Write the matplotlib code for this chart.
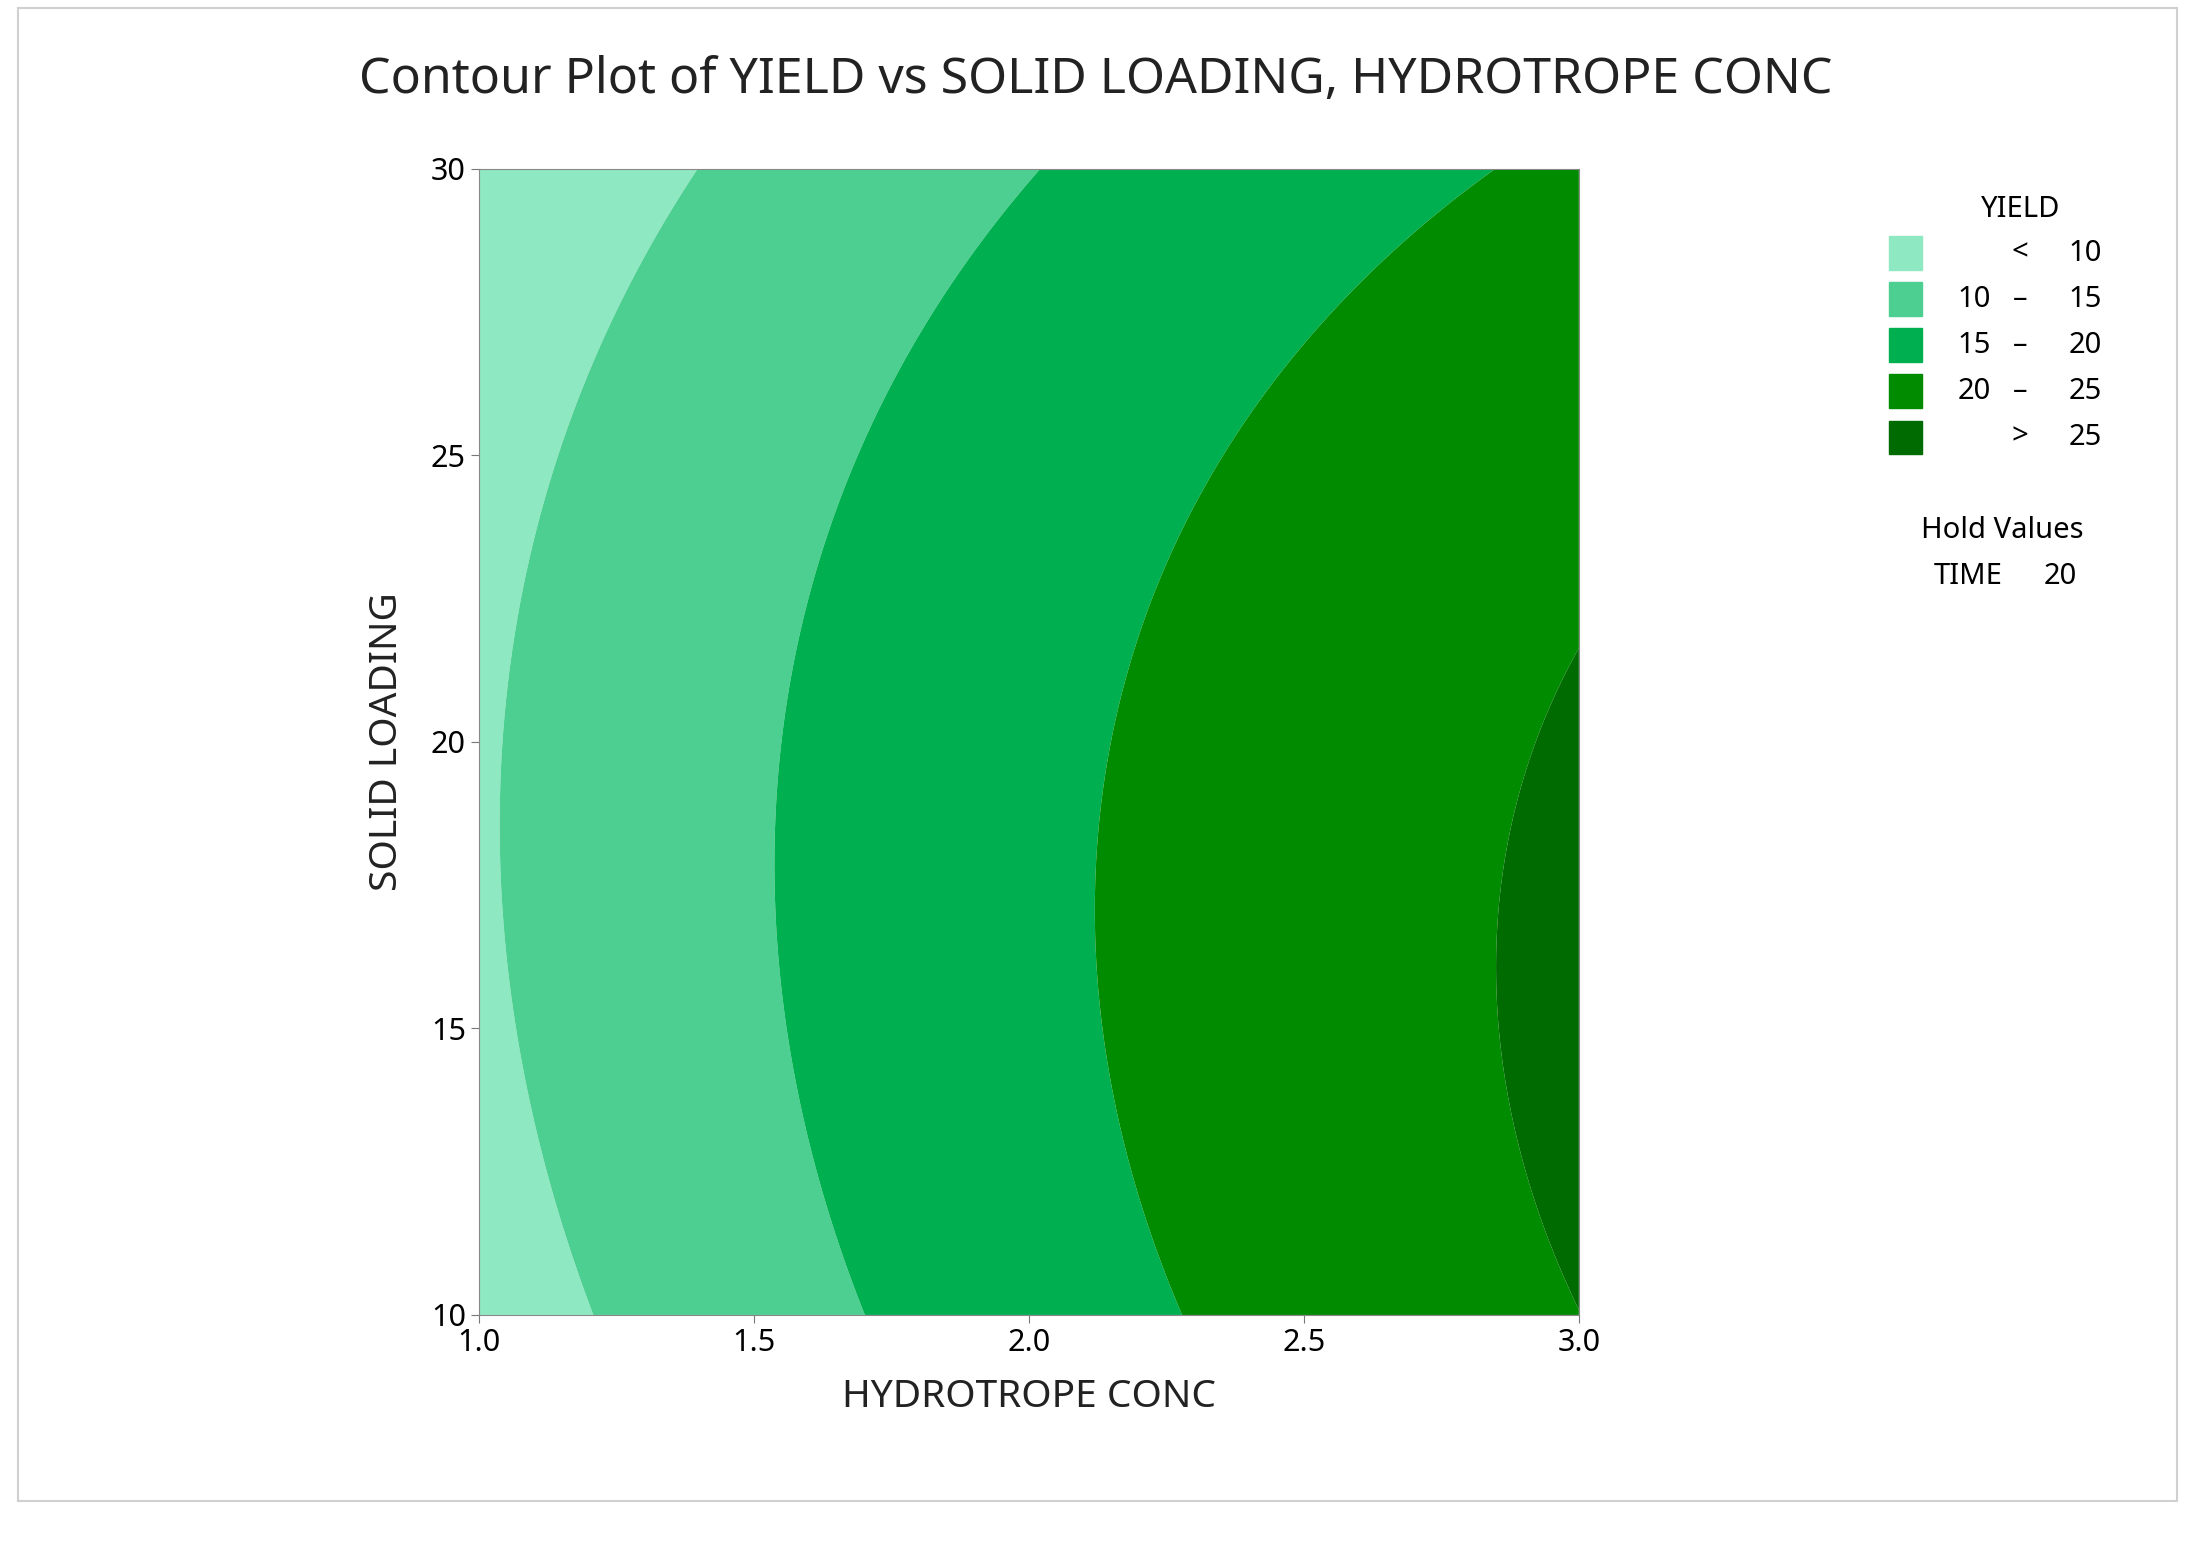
import numpy as np
import matplotlib
matplotlib.use("Agg")
import matplotlib.pyplot as plt
from matplotlib.patches import Rectangle

# Contour boundary points: (HYDROTROPE CONC, SOLID LOADING, YIELD level)
pt_x = [1.41, 1.14, 1.046, 1.205, 2.03, 1.64, 1.55, 1.70, 2.84, 2.38, 2.13, 2.27, 3.0, 2.85, 3.0, 2.9]
pt_y = [30, 25, 18, 10, 30, 25, 18, 10, 30, 25, 17, 10, 21.8, 16, 10.2, 19.5]
pt_z = [10, 10, 10, 10, 15, 15, 15, 15, 20, 20, 20, 20, 25, 25, 25, 25]

levels = [-1e3, 10, 15, 20, 25, 1e3]
colors = ["#8ee8c1", "#4ccf90", "#00b050", "#008b00", "#006b00"]
legend_labels = [("", "<", "10"), ("10", "–", "15"), ("15", "–", "20"), ("20", "–", "25"), ("", ">", "25")]
hold_name, hold_value = "TIME", "20"

px, py, pz = map(np.array, (pt_x, pt_y, pt_z))
A = np.column_stack([np.ones_like(px), px, py, px**2, py**2, px*py])
coef, *_ = np.linalg.lstsq(A, pz, rcond=None)

gx, gy = np.meshgrid(np.linspace(1, 3, 400), np.linspace(10, 30, 400))
Z = coef[0] + coef[1]*gx + coef[2]*gy + coef[3]*gx**2 + coef[4]*gy**2 + coef[5]*gx*gy

plt.rcParams['font.family'] = ['Noto Sans', 'DejaVu Sans']
fig = plt.figure(figsize=(21.88, 15.47), dpi=100)
fig.patches.append(Rectangle((0.008, 0.03), 0.987, 0.965, transform=fig.transFigure,
                             fill=False, edgecolor="#d0d0d0", lw=1.5))
ax = fig.add_axes([0.219, 0.15, 0.5026, 0.741])
ax.contourf(gx, gy, Z, levels=levels, colors=colors, antialiased=True)
ax.set_xlim(1, 3); ax.set_ylim(10, 30)
ax.set_xticks([1.0, 1.5, 2.0, 2.5, 3.0]); ax.set_yticks([10, 15, 20, 25, 30])
ax.tick_params(labelsize=22, length=6, color="#777777")
for s in ax.spines.values():
    s.set_color("#888888")
ax.set_xlabel("HYDROTROPE CONC", fontsize=28, labelpad=14, color="#222222")
ax.set_ylabel("SOLID LOADING", fontsize=28, labelpad=18, color="#222222")
fig.text(0.501, 0.948, "Contour Plot of YIELD vs SOLID LOADING, HYDROTROPE CONC",
         ha="center", va="center", fontsize=36, color="#222222")

W, H = 1552, 1100
def fx(v): return v / W
def fy(v): return 1 - v / H
fig.text(fx(1433), fy(149), "YIELD", ha="center", va="center", fontsize=21)
for i, (a, b, c) in enumerate(legend_labels):
    yc = 180 + i * 32.75
    fig.patches.append(Rectangle((fx(1340), fy(yc + 12)), fx(23), 24 / H,
                                 transform=fig.transFigure, color=colors[i]))
    fig.text(fx(1412), fy(yc), a, ha="right", va="center", fontsize=21)
    fig.text(fx(1433), fy(yc), b, ha="center", va="center", fontsize=21)
    fig.text(fx(1491), fy(yc), c, ha="right", va="center", fontsize=21)
fig.text(fx(1420), fy(377), "Hold Values", ha="center", va="center", fontsize=21)
fig.text(fx(1396), fy(410), hold_name, ha="center", va="center", fontsize=21)
fig.text(fx(1473), fy(410), hold_value, ha="right", va="center", fontsize=21)

fig.savefig("out.png", dpi=100, facecolor="white")
